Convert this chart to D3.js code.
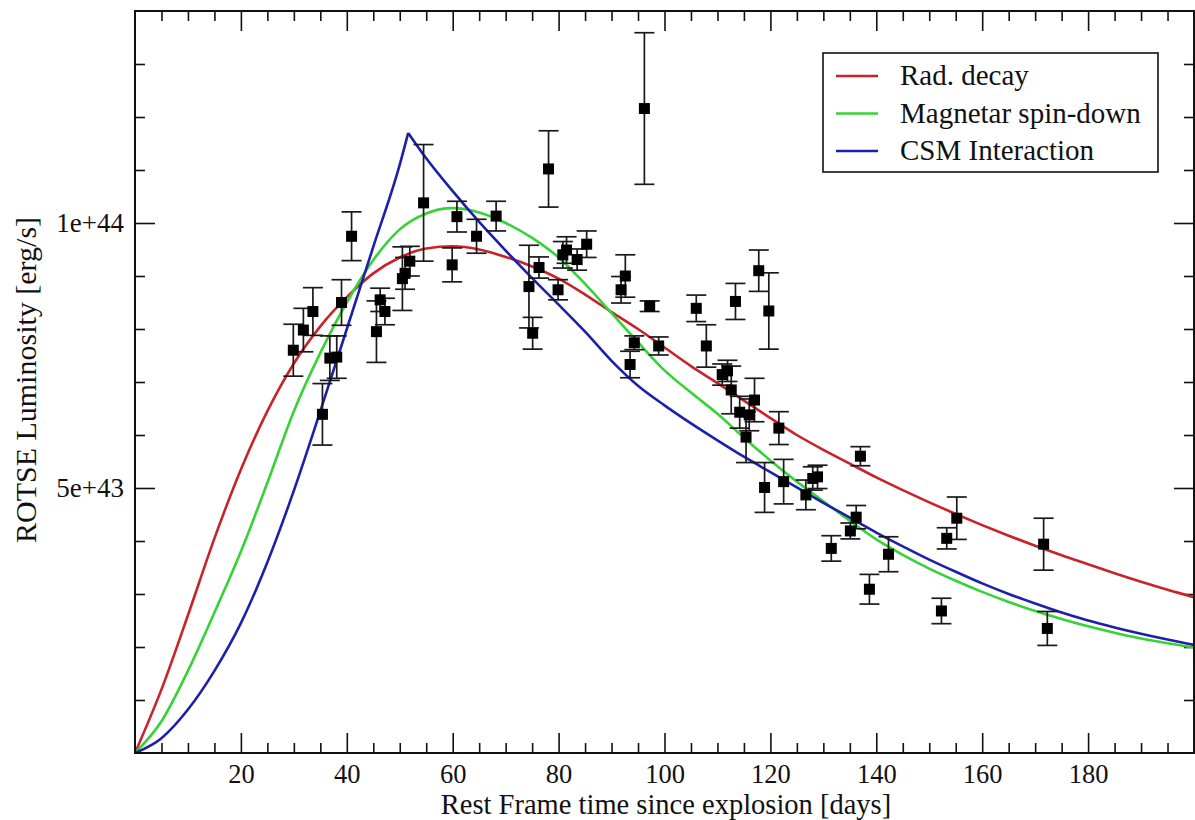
<!DOCTYPE html>
<html>
<head>
<meta charset="utf-8">
<script src="https://cdn.jsdelivr.net/npm/d3@7"></script>
<style>
  html, body { margin: 0; padding: 0; background: #ffffff; }
  svg { display: block; }
</style>
</head>
<body>
<svg id="chart" width="1195" height="820"></svg>
<script>
// ---------------- data (luminosity in units of 1e43 erg/s) ----------------
const UNIT = 1e43;

// observed points: rest-frame day, luminosity, 1-sigma error
const obsDays = [29.9, 31.8, 33.6, 35.4, 36.8, 38.1, 39.0, 40.9, 45.6, 46.3, 47.2, 50.5, 51.0, 51.9, 54.5,
  59.9, 60.8, 64.5, 68.2, 74.4, 75.1, 76.3, 78.1, 79.9, 80.8, 81.5, 83.5, 85.3, 91.8, 92.6, 93.5, 94.3,
  96.2, 97.2, 98.9, 106.0, 107.9, 110.9, 111.9, 112.6, 113.4, 114.2, 115.4, 116.0, 117.0, 117.8, 118.9,
  119.7, 121.6, 122.5, 126.7, 128.0, 128.9, 131.5, 135.1, 136.2, 137.0, 138.7, 142.3, 152.3, 153.3, 155.2,
  171.6, 172.3];
const obsLum = [7.60, 7.98, 8.33, 6.39, 7.45, 7.47, 8.50, 9.75, 7.95, 8.55, 8.33, 8.95, 9.05, 9.28, 10.38,
  9.21, 10.12, 9.75, 10.13, 8.80, 7.92, 9.16, 11.02, 8.74, 9.40, 9.49, 9.31, 9.60, 8.74, 9.00, 7.33, 7.74,
  12.16, 8.43, 7.68, 8.39, 7.68, 7.14, 7.21, 6.85, 8.52, 6.43, 5.96, 6.38, 6.66, 9.10, 5.01,
  8.34, 6.13, 5.12, 4.87, 5.18, 5.21, 3.86, 4.19, 4.45, 5.60, 3.09, 3.75, 2.68, 4.05, 4.43,
  3.94, 2.35];
const obsErr = [0.49, 0.41, 0.45, 0.58, 0.42, 0.40, 0.43, 0.46, 0.58, 0.22, 0.25, 0.60, 0.30, 0.28, 1.10,
  0.32, 0.29, 0.32, 0.28, 0.78, 0.30, 0.20, 0.72, 0.19, 0.25, 0.25, 0.20, 0.25, 0.25, 0.40, 0.25, 0.13,
  1.43, 0.10, 0.17, 0.25, 0.40, 0.20, 0.20, 0.45, 0.34, 0.30, 0.48, 0.30, 0.41, 0.39, 0.47,
  0.72, 0.31, 0.42, 0.28, 0.22, 0.22, 0.24, 0.15, 0.22, 0.18, 0.28, 0.33, 0.24, 0.20, 0.40,
  0.49, 0.32];

// model curves
const modelDays = [0, 5, 10, 15, 20, 25, 30, 35, 40, 45, 50, 55, 60, 65, 70, 75, 80, 85, 90, 95, 100,
  105, 110, 115, 120, 125, 130, 135, 140, 145, 150, 155, 160, 165, 170, 175, 180, 185, 190, 195, 200];
const radDecay = [0, 1.2, 2.6, 4.05, 5.35, 6.45, 7.35, 8.05, 8.6, 9.05, 9.35, 9.52, 9.56, 9.5, 9.36, 9.18,
  8.95, 8.65, 8.32, 8.0, 7.65, 7.3, 6.98, 6.65, 6.32, 6.0, 5.72, 5.46, 5.2, 4.96, 4.73, 4.51, 4.3, 4.1,
  3.91, 3.73, 3.56, 3.39, 3.23, 3.08, 2.94];
const magnetar = [0, 0.6, 1.55, 2.65, 3.8, 5.1, 6.45, 7.55, 8.5, 9.3, 9.88, 10.18, 10.28, 10.2, 10.0, 9.72,
  9.35, 8.85, 8.3, 7.75, 7.22, 6.8, 6.4, 5.95, 5.52, 5.12, 4.75, 4.38, 4.03, 3.74, 3.48, 3.25, 3.04, 2.85,
  2.68, 2.53, 2.39, 2.27, 2.16, 2.07, 1.99];
const csmDays = [0, 5, 10, 15, 20, 25, 30, 35, 40, 45, 50, 51.6, 55, 60, 65, 70, 75, 80, 85, 90, 95, 100,
  105, 110, 115, 120, 125, 130, 135, 140, 145, 150, 155, 160, 165, 170, 175, 180, 185, 190, 195, 200];
const csm = [0, 0.28, 0.82, 1.55, 2.45, 3.6, 4.95, 6.45, 8.0, 9.55, 11.1, 11.7, 11.22, 10.6, 10.02, 9.48,
  8.96, 8.46, 7.95, 7.4, 6.93, 6.56, 6.22, 5.9, 5.59, 5.3, 5.01, 4.72, 4.44, 4.16, 3.9, 3.65, 3.42, 3.2,
  3.0, 2.82, 2.65, 2.5, 2.37, 2.25, 2.14, 2.04];
const csmPeakDay = 51.6;

const seriesNames = ["Rad. decay", "Magnetar spin-down", "CSM Interaction"];
const seriesColors = ["#c9232a", "#36d336", "#1c20aa"];

const xMajorTicks = [20, 40, 60, 80, 100, 120, 140, 160, 180];
const yMajorTicks = [5e43, 1e44];
const yTickLabels = ["5e+43", "1e+44"];
const xTitle = "Rest Frame time since explosion [days]";
const yTitle = "ROTSE Luminosity [erg/s]";

// ---------------- drawing ----------------
const svg = d3.select("#chart");
const L = 135, R = 1194, T = 11, B = 753;
const FONT = "'Liberation Serif', 'Times New Roman', serif";

const x = d3.scaleLinear().domain([0, 200]).range([L, R]);
const y = d3.scaleLinear().domain([0, 1.4e44]).range([B, T]);

svg.append("rect").attr("width", 1195).attr("height", 820).attr("fill", "#fff");

const clip = svg.append("defs").append("clipPath").attr("id", "plotclip");
clip.append("rect").attr("x", L).attr("y", T).attr("width", R - L).attr("height", B - T);

const xMinor = d3.range(5, 200, 5).filter(d => d % 20 !== 0);
const yMinor = d3.range(1, 14).map(d => d * 1e43).filter(d => d % 5e43 !== 0);

function styleAxis(g, size) {
  g.select(".domain").remove();
  g.selectAll(".tick line").attr("stroke", "#111").attr("stroke-width", 1.6);
  g.selectAll("text").attr("font-family", FONT).attr("font-size", size || 27).attr("fill", "#111");
}

// bottom
svg.append("g").attr("transform", `translate(0,${B})`)
  .call(d3.axisBottom(x).tickValues(xMajorTicks).tickSize(-20).tickPadding(11).tickFormat(d3.format("d")))
  .call(g => styleAxis(g, 26.5));
svg.append("g").attr("transform", `translate(0,${B})`)
  .call(d3.axisBottom(x).tickValues(xMinor).tickSize(-10).tickFormat(""))
  .call(styleAxis);
// top
svg.append("g").attr("transform", `translate(0,${T})`)
  .call(d3.axisTop(x).tickValues(xMajorTicks).tickSize(-20).tickFormat(""))
  .call(styleAxis);
svg.append("g").attr("transform", `translate(0,${T})`)
  .call(d3.axisTop(x).tickValues(xMinor).tickSize(-10).tickFormat(""))
  .call(styleAxis);
// left
svg.append("g").attr("transform", `translate(${L},0)`)
  .call(d3.axisLeft(y).tickValues(yMajorTicks).tickSize(-20).tickPadding(11)
    .tickFormat((d, i) => yTickLabels[i]))
  .call(g => styleAxis(g, 27));
svg.append("g").attr("transform", `translate(${L},0)`)
  .call(d3.axisLeft(y).tickValues(yMinor).tickSize(-10).tickFormat(""))
  .call(styleAxis);
// right
svg.append("g").attr("transform", `translate(${R},0)`)
  .call(d3.axisRight(y).tickValues(yMajorTicks).tickSize(-20).tickFormat(""))
  .call(styleAxis);
svg.append("g").attr("transform", `translate(${R},0)`)
  .call(d3.axisRight(y).tickValues(yMinor).tickSize(-10).tickFormat(""))
  .call(styleAxis);

// curves
const plot = svg.append("g").attr("clip-path", "url(#plotclip)");
const line = d3.line().x(d => x(d[0])).y(d => y(d[1] * UNIT)).curve(d3.curveMonotoneX);

const radData = modelDays.map((d, i) => [d, radDecay[i]]);
const magData = modelDays.map((d, i) => [d, magnetar[i]]);
const csmData = csmDays.map((d, i) => [d, csm[i]]);
const csmRise = csmData.filter(d => d[0] <= csmPeakDay);
const csmFall = csmData.filter(d => d[0] >= csmPeakDay);

const curves = [[radData], [magData], [csmRise, csmFall]];
curves.forEach((segs, k) => {
  segs.forEach(seg => {
    plot.append("path").datum(seg)
      .attr("d", line)
      .attr("fill", "none")
      .attr("stroke", seriesColors[k])
      .attr("stroke-width", 2.6)
      .attr("stroke-linejoin", "round");
  });
});

// error bars and points
const obs = obsDays.map((d, i) => ({ day: d, lum: obsLum[i], err: obsErr[i] }));
const eb = plot.append("g").attr("stroke", "#1a1a1a").attr("stroke-width", 1.7).attr("fill", "none");
const cap = 10;
obs.forEach(o => {
  const cx = x(o.day), y1 = y((o.lum + o.err) * UNIT), y2 = y((o.lum - o.err) * UNIT);
  eb.append("line").attr("x1", cx).attr("x2", cx).attr("y1", y1).attr("y2", y2);
  eb.append("line").attr("x1", cx - cap).attr("x2", cx + cap).attr("y1", y1).attr("y2", y1);
  eb.append("line").attr("x1", cx - cap).attr("x2", cx + cap).attr("y1", y2).attr("y2", y2);
});
const sq = 11;
plot.append("g").selectAll("rect").data(obs).join("rect")
  .attr("x", d => x(d.day) - sq / 2)
  .attr("y", d => y(d.lum * UNIT) - sq / 2)
  .attr("width", sq).attr("height", sq)
  .attr("fill", "#000");

// frame
svg.append("rect").attr("x", L).attr("y", T).attr("width", R - L).attr("height", B - T)
  .attr("fill", "none").attr("stroke", "#111").attr("stroke-width", 2);

// legend
const lg = svg.append("g");
lg.append("rect").attr("x", 823).attr("y", 53).attr("width", 335).attr("height", 119)
  .attr("fill", "#fff").attr("stroke", "#111").attr("stroke-width", 1.6);
seriesNames.forEach((name, i) => {
  const ly = 76 + i * 37.5;
  lg.append("line").attr("x1", 836).attr("x2", 878).attr("y1", ly).attr("y2", ly)
    .attr("stroke", seriesColors[i]).attr("stroke-width", 2.6);
  lg.append("text").attr("x", 900).attr("y", ly + 9)
    .attr("font-family", FONT).attr("font-size", 29).attr("fill", "#111").text(name);
});

// axis titles
svg.append("text").attr("x", 666).attr("y", 813.5).attr("text-anchor", "middle")
  .attr("font-family", FONT).attr("font-size", 28.5).attr("fill", "#111").text(xTitle);
svg.append("text").attr("transform", "translate(36,380) rotate(-90)").attr("text-anchor", "middle")
  .attr("font-family", FONT).attr("font-size", 30).attr("fill", "#111").text(yTitle);
</script>
</body>
</html>
